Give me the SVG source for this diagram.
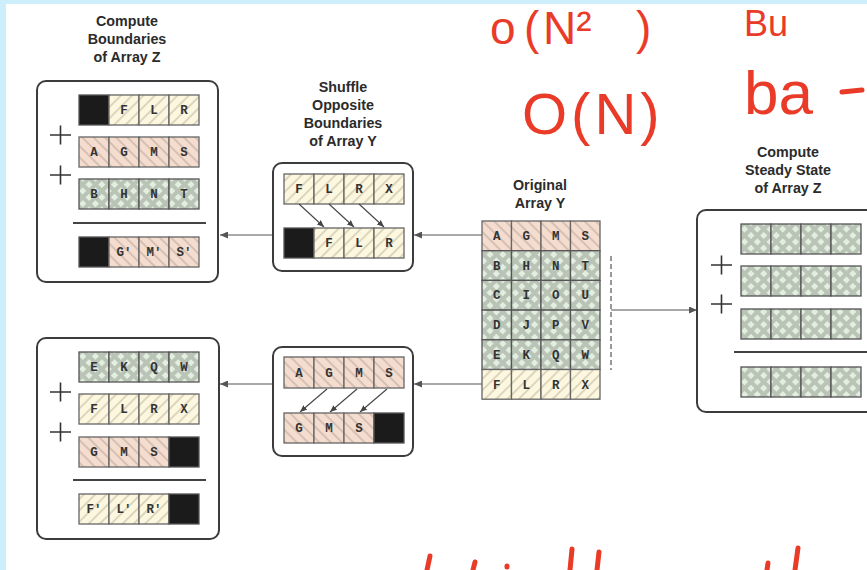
<svg xmlns="http://www.w3.org/2000/svg" width="867" height="570" viewBox="0 0 867 570">
<defs>
<pattern id="pink" patternUnits="userSpaceOnUse" width="8" height="8" patternTransform="rotate(-45)">
<rect width="8" height="8" fill="#f4dccf"/><rect x="0" y="0" width="2" height="8" fill="#d6c0b4"/>
</pattern>
<pattern id="yel" patternUnits="userSpaceOnUse" width="8" height="8" patternTransform="rotate(45)">
<rect width="8" height="8" fill="#fcf7de"/><rect x="0" y="0" width="2" height="8" fill="#dbd6bd"/>
</pattern>
<pattern id="grn" patternUnits="userSpaceOnUse" width="9" height="9" patternTransform="rotate(45)">
<rect width="9" height="9" fill="#b9c4b7"/><rect x="2" y="2" width="5" height="5" fill="#e2eee0"/>
</pattern>
<marker id="ah" markerUnits="userSpaceOnUse" markerWidth="8" markerHeight="7" refX="8" refY="3.5" orient="auto">
<path d="M0,0 L8,3.5 L0,7 z" fill="#555"/>
</marker>
<marker id="ahs" markerUnits="userSpaceOnUse" markerWidth="7" markerHeight="6" refX="7" refY="3" orient="auto">
<path d="M0,0 L7,3 L0,6 z" fill="#444"/>
</marker>
</defs>
<style>
.box{fill:#fff;stroke:#3c3c3c;stroke-width:2}
.pk{fill:url(#pink);stroke:#666;stroke-width:1.3}
.yl{fill:url(#yel);stroke:#666;stroke-width:1.3}
.gn{fill:url(#grn);stroke:#555;stroke-width:1.3}
.bk{fill:#1b1b1b;stroke:#555;stroke-width:1.3}
.t{font-family:"Liberation Mono","Courier New",monospace;font-weight:bold;font-size:12.5px;fill:#333;text-anchor:middle}
.ti{font-family:"Liberation Sans",Arial,sans-serif;font-weight:bold;font-size:14.3px;fill:#2b2b2b;text-anchor:middle}
.conn{stroke:#555;stroke-width:1.2;fill:none}
.sh{stroke:#444;stroke-width:1.1;fill:none}
.plus{stroke:#333;stroke-width:1.6;fill:none}
.sep{stroke:#444;stroke-width:2}
.hw{font-family:"Liberation Sans",Arial,sans-serif;fill:#ea3b28}
.mk{stroke:#ea3b28;stroke-width:5;stroke-linecap:round;fill:none}
</style>
<rect width="867" height="570" fill="#fff"/>
<rect x="0" y="0" width="867" height="4" fill="#cdeefb"/>
<rect x="0" y="0" width="6" height="570" fill="#cdeefb"/>

<g id="connectors">
<line class="conn" x1="482" y1="235" x2="414" y2="235" marker-end="url(#ah)"/>
<line class="conn" x1="273" y1="235" x2="220" y2="235" marker-end="url(#ah)"/>
<line class="conn" x1="482" y1="384" x2="414" y2="384" marker-end="url(#ah)"/>
<line class="conn" x1="273" y1="384" x2="220" y2="384" marker-end="url(#ah)"/>
<line class="conn" x1="611" y1="256" x2="611" y2="370" stroke-dasharray="5,3"/>
<line class="conn" x1="611" y1="310" x2="697" y2="310" marker-end="url(#ah)"/>
</g>

<g id="compute-boundaries-top">
<text class="ti" x="127" y="26">Compute</text>
<text class="ti" x="127" y="44">Boundaries</text>
<text class="ti" x="127" y="62">of Array Z</text>
<rect class="box" x="37" y="81" width="181" height="201" rx="9"/>
<path class="plus" d="M50,135 H71 M60.5,125.5 V144.5 M50,175 H71 M60.5,165.5 V184.5"/>
<rect class="bk" x="79" y="95" width="30" height="30"/><rect class="yl" x="109" y="95" width="30" height="30"/><rect class="yl" x="139" y="95" width="30" height="30"/><rect class="yl" x="169" y="95" width="30" height="30"/>
<text class="t" x="124" y="114">F</text><text class="t" x="154" y="114">L</text><text class="t" x="184" y="114">R</text>
<rect class="pk" x="79" y="137" width="30" height="30"/><rect class="pk" x="109" y="137" width="30" height="30"/><rect class="pk" x="139" y="137" width="30" height="30"/><rect class="pk" x="169" y="137" width="30" height="30"/>
<text class="t" x="94" y="156">A</text><text class="t" x="124" y="156">G</text><text class="t" x="154" y="156">M</text><text class="t" x="184" y="156">S</text>
<rect class="gn" x="79" y="179" width="30" height="30"/><rect class="gn" x="109" y="179" width="30" height="30"/><rect class="gn" x="139" y="179" width="30" height="30"/><rect class="gn" x="169" y="179" width="30" height="30"/>
<text class="t" x="94" y="198">B</text><text class="t" x="124" y="198">H</text><text class="t" x="154" y="198">N</text><text class="t" x="184" y="198">T</text>
<line class="sep" x1="73" y1="223" x2="206" y2="223"/>
<rect class="bk" x="79" y="237" width="30" height="30"/><rect class="pk" x="109" y="237" width="30" height="30"/><rect class="pk" x="139" y="237" width="30" height="30"/><rect class="pk" x="169" y="237" width="30" height="30"/>
<text class="t" x="124" y="256">G′</text><text class="t" x="154" y="256">M′</text><text class="t" x="184" y="256">S′</text>
</g>

<g id="shuffle-top">
<text class="ti" x="343" y="92">Shuffle</text>
<text class="ti" x="343" y="110">Opposite</text>
<text class="ti" x="343" y="128">Boundaries</text>
<text class="ti" x="343" y="146">of Array Y</text>
<rect class="box" x="273" y="163" width="140" height="108" rx="9"/>
<rect class="yl" x="284" y="174" width="30" height="30"/><rect class="yl" x="314" y="174" width="30" height="30"/><rect class="yl" x="344" y="174" width="30" height="30"/><rect class="yl" x="374" y="174" width="30" height="30"/>
<text class="t" x="299" y="193">F</text><text class="t" x="329" y="193">L</text><text class="t" x="359" y="193">R</text><text class="t" x="389" y="193">X</text>
<line class="sh" x1="299" y1="204" x2="324" y2="227" marker-end="url(#ahs)"/>
<line class="sh" x1="329" y1="204" x2="354" y2="227" marker-end="url(#ahs)"/>
<line class="sh" x1="359" y1="204" x2="384" y2="227" marker-end="url(#ahs)"/>
<rect class="bk" x="284" y="228" width="30" height="30"/><rect class="yl" x="314" y="228" width="30" height="30"/><rect class="yl" x="344" y="228" width="30" height="30"/><rect class="yl" x="374" y="228" width="30" height="30"/>
<text class="t" x="329" y="247">F</text><text class="t" x="359" y="247">L</text><text class="t" x="389" y="247">R</text>
</g>

<g id="original-array-y">
<text class="ti" x="540" y="190">Original</text>
<text class="ti" x="540" y="208">Array Y</text>
<rect class="pk" x="482" y="221" width="29.5" height="29.7"/><rect class="pk" x="511.5" y="221" width="29.5" height="29.7"/><rect class="pk" x="541" y="221" width="29.5" height="29.7"/><rect class="pk" x="570.5" y="221" width="29.5" height="29.7"/>
<rect class="gn" x="482" y="250.7" width="29.5" height="29.7"/><rect class="gn" x="511.5" y="250.7" width="29.5" height="29.7"/><rect class="gn" x="541" y="250.7" width="29.5" height="29.7"/><rect class="gn" x="570.5" y="250.7" width="29.5" height="29.7"/>
<rect class="gn" x="482" y="280.4" width="29.5" height="29.7"/><rect class="gn" x="511.5" y="280.4" width="29.5" height="29.7"/><rect class="gn" x="541" y="280.4" width="29.5" height="29.7"/><rect class="gn" x="570.5" y="280.4" width="29.5" height="29.7"/>
<rect class="gn" x="482" y="310.1" width="29.5" height="29.7"/><rect class="gn" x="511.5" y="310.1" width="29.5" height="29.7"/><rect class="gn" x="541" y="310.1" width="29.5" height="29.7"/><rect class="gn" x="570.5" y="310.1" width="29.5" height="29.7"/>
<rect class="gn" x="482" y="339.8" width="29.5" height="29.7"/><rect class="gn" x="511.5" y="339.8" width="29.5" height="29.7"/><rect class="gn" x="541" y="339.8" width="29.5" height="29.7"/><rect class="gn" x="570.5" y="339.8" width="29.5" height="29.7"/>
<rect class="yl" x="482" y="369.5" width="29.5" height="29.7"/><rect class="yl" x="511.5" y="369.5" width="29.5" height="29.7"/><rect class="yl" x="541" y="369.5" width="29.5" height="29.7"/><rect class="yl" x="570.5" y="369.5" width="29.5" height="29.7"/>
<text class="t" x="496.75" y="240">A</text><text class="t" x="526.25" y="240">G</text><text class="t" x="555.75" y="240">M</text><text class="t" x="585.25" y="240">S</text>
<text class="t" x="496.75" y="269.7">B</text><text class="t" x="526.25" y="269.7">H</text><text class="t" x="555.75" y="269.7">N</text><text class="t" x="585.25" y="269.7">T</text>
<text class="t" x="496.75" y="299.4">C</text><text class="t" x="526.25" y="299.4">I</text><text class="t" x="555.75" y="299.4">O</text><text class="t" x="585.25" y="299.4">U</text>
<text class="t" x="496.75" y="329.1">D</text><text class="t" x="526.25" y="329.1">J</text><text class="t" x="555.75" y="329.1">P</text><text class="t" x="585.25" y="329.1">V</text>
<text class="t" x="496.75" y="358.8">E</text><text class="t" x="526.25" y="358.8">K</text><text class="t" x="555.75" y="358.8">Q</text><text class="t" x="585.25" y="358.8">W</text>
<text class="t" x="496.75" y="388.5">F</text><text class="t" x="526.25" y="388.5">L</text><text class="t" x="555.75" y="388.5">R</text><text class="t" x="585.25" y="388.5">X</text>
</g>

<g id="steady-state-z">
<text class="ti" x="788" y="157">Compute</text>
<text class="ti" x="788" y="175">Steady State</text>
<text class="ti" x="788" y="193">of Array Z</text>
<rect class="box" x="697" y="210" width="200" height="202" rx="9"/>
<path class="plus" d="M711,265 H732 M721.5,255.5 V274.5 M711,304 H732 M721.5,294.5 V313.5"/>
<rect class="gn" x="741" y="224" width="30" height="30"/><rect class="gn" x="771" y="224" width="30" height="30"/><rect class="gn" x="801" y="224" width="30" height="30"/><rect class="gn" x="831" y="224" width="30" height="30"/>
<rect class="gn" x="741" y="266" width="30" height="30"/><rect class="gn" x="771" y="266" width="30" height="30"/><rect class="gn" x="801" y="266" width="30" height="30"/><rect class="gn" x="831" y="266" width="30" height="30"/>
<rect class="gn" x="741" y="309" width="30" height="30"/><rect class="gn" x="771" y="309" width="30" height="30"/><rect class="gn" x="801" y="309" width="30" height="30"/><rect class="gn" x="831" y="309" width="30" height="30"/>
<line class="sep" x1="734" y1="352" x2="867" y2="352"/>
<rect class="gn" x="741" y="367" width="30" height="30"/><rect class="gn" x="771" y="367" width="30" height="30"/><rect class="gn" x="801" y="367" width="30" height="30"/><rect class="gn" x="831" y="367" width="30" height="30"/>
</g>

<g id="compute-boundaries-bottom">
<rect class="box" x="37" y="338" width="182" height="201" rx="9"/>
<path class="plus" d="M50,392 H71 M60.5,382.5 V401.5 M50,432 H71 M60.5,422.5 V441.5"/>
<rect class="gn" x="79" y="352" width="30" height="30"/><rect class="gn" x="109" y="352" width="30" height="30"/><rect class="gn" x="139" y="352" width="30" height="30"/><rect class="gn" x="169" y="352" width="30" height="30"/>
<text class="t" x="94" y="371">E</text><text class="t" x="124" y="371">K</text><text class="t" x="154" y="371">Q</text><text class="t" x="184" y="371">W</text>
<rect class="yl" x="79" y="394" width="30" height="30"/><rect class="yl" x="109" y="394" width="30" height="30"/><rect class="yl" x="139" y="394" width="30" height="30"/><rect class="yl" x="169" y="394" width="30" height="30"/>
<text class="t" x="94" y="413">F</text><text class="t" x="124" y="413">L</text><text class="t" x="154" y="413">R</text><text class="t" x="184" y="413">X</text>
<rect class="pk" x="79" y="437" width="30" height="30"/><rect class="pk" x="109" y="437" width="30" height="30"/><rect class="pk" x="139" y="437" width="30" height="30"/><rect class="bk" x="169" y="437" width="30" height="30"/>
<text class="t" x="94" y="456">G</text><text class="t" x="124" y="456">M</text><text class="t" x="154" y="456">S</text>
<line class="sep" x1="73" y1="480" x2="206" y2="480"/>
<rect class="yl" x="79" y="494" width="30" height="30"/><rect class="yl" x="109" y="494" width="30" height="30"/><rect class="yl" x="139" y="494" width="30" height="30"/><rect class="bk" x="169" y="494" width="30" height="30"/>
<text class="t" x="94" y="513">F′</text><text class="t" x="124" y="513">L′</text><text class="t" x="154" y="513">R′</text>
</g>

<g id="shuffle-bottom">
<rect class="box" x="273" y="347" width="140" height="109" rx="9"/>
<rect class="pk" x="284" y="357" width="30" height="31"/><rect class="pk" x="314" y="357" width="30" height="31"/><rect class="pk" x="344" y="357" width="30" height="31"/><rect class="pk" x="374" y="357" width="30" height="31"/>
<text class="t" x="299" y="377">A</text><text class="t" x="329" y="377">G</text><text class="t" x="359" y="377">M</text><text class="t" x="389" y="377">S</text>
<line class="sh" x1="327" y1="389" x2="300" y2="412" marker-end="url(#ahs)"/>
<line class="sh" x1="357" y1="389" x2="330" y2="412" marker-end="url(#ahs)"/>
<line class="sh" x1="387" y1="389" x2="360" y2="412" marker-end="url(#ahs)"/>
<rect class="pk" x="284" y="413" width="30" height="30"/><rect class="pk" x="314" y="413" width="30" height="30"/><rect class="pk" x="344" y="413" width="30" height="30"/><rect class="bk" x="374" y="413" width="30" height="30"/>
<text class="t" x="299" y="432">G</text><text class="t" x="329" y="432">M</text><text class="t" x="359" y="432">S</text>
</g>

<g id="annotations">
<text class="hw" font-size="46" y="44"><tspan x="490">o</tspan><tspan x="524">(</tspan><tspan x="543">N²</tspan><tspan x="636">)</tspan></text>
<text class="hw" font-size="36" x="744" y="36">Bu</text>
<text class="hw" font-size="58" x="522" y="134" letter-spacing="4">O(N)</text>
<text class="hw" font-size="62" x="744" y="114">ba</text>
<line class="mk" x1="842" y1="92" x2="862" y2="90"/>
<path class="mk" d="M427,570 L430,556 M473,570 L475,562 M507,566 L507,567 M570,570 L572,549 M597,570 L599,552 M767,570 L768,563 M795,570 L798,548"/>
</g>
</svg>
